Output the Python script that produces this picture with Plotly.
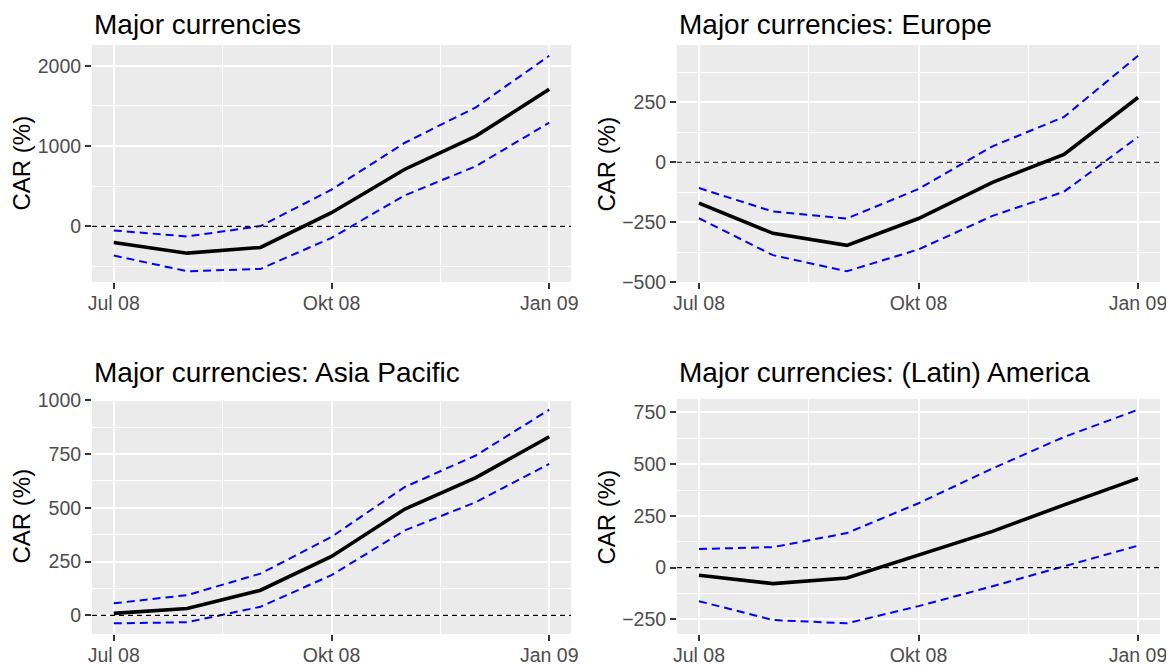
import plotly.graph_objects as go
from plotly.subplots import make_subplots

# monthly observation dates
dates = ['2008-07-01', '2008-08-01', '2008-09-01', '2008-10-01',
         '2008-11-01', '2008-12-01', '2009-01-01']

# CAR (%) per region: estimate and confidence bounds
world_car = [-200, -333, -262, 171, 712, 1125, 1708]
world_upper = [-50, -125, 4, 458, 1042, 1483, 2125]
world_lower = [-362, -558, -529, -142, 387, 750, 1292]

europe_car = [-171, -297, -347, -235, -84, 32, 270]
europe_upper = [-108, -206, -235, -112, 66, 189, 444]
europe_lower = [-234, -388, -455, -364, -224, -123, 105]

asia_car = [9, 32, 117, 274, 494, 640, 830]
asia_upper = [56, 94, 194, 365, 597, 743, 956]
asia_lower = [-37, -32, 40, 187, 395, 526, 704]

america_car = [-37, -77, -50, 62, 175, 303, 431]
america_upper = [90, 99, 167, 311, 479, 631, 763]
america_lower = [-162, -253, -269, -186, -90, 6, 106]

titles = ['Major currencies', 'Major currencies: Europe',
          'Major currencies: Asia Pacific', 'Major currencies: (Latin) America']
y_title = 'CAR (%)'

x_tickvals = ['2008-07-01', '2008-10-01', '2009-01-01']
x_ticktext = ['Jul 08', 'Okt 08', 'Jan 09']
x_minor = ['2008-08-16', '2008-11-16']

y_ticks = [
    [0, 1000, 2000],
    [-500, -250, 0, 250],
    [0, 250, 500, 750, 1000],
    [-250, 0, 250, 500, 750],
]
y_minor = [
    [-500, 500, 1500],
    [-375, -125, 125, 375],
    [125, 375, 625, 875],
    [-125, 125, 375, 625],
]

panels = [
    (world_car, world_upper, world_lower),
    (europe_car, europe_upper, europe_lower),
    (asia_car, asia_upper, asia_lower),
    (america_car, america_upper, america_lower),
]

# the page body has an 8px margin, so the figure starts at (8, 8)
OFF = 8
W, H = 1174 - OFF, 665 - OFF
FONT = 'Liberation Sans, Arial, sans-serif'

fig = make_subplots(rows=2, cols=2)

# panel boxes in screen pixels (left, right, top, bottom)
boxes = [(92, 571, 45, 282), (677, 1160, 45, 282),
         (92, 571, 399, 634), (677, 1160, 399, 634)]
# gap between title centre and panel top (top row nudged down to stay on the page)
title_gap = [21, 21, 27, 27]

for i, (car, up, lo) in enumerate(panels):
    r, c = i // 2 + 1, i % 2 + 1
    for ys in (up, lo):
        fig.add_trace(go.Scatter(x=dates, y=ys, mode='lines',
                                 line=dict(color='#0000FF', width=2, dash='8px,5px'),
                                 showlegend=False, hoverinfo='skip'), row=r, col=c)
    fig.add_trace(go.Scatter(x=dates, y=car, mode='lines',
                             line=dict(color='black', width=3.6),
                             showlegend=False), row=r, col=c)
    fig.add_hline(y=0, line=dict(color='black', width=1.1, dash='5px,4px'), row=r, col=c)

    lo_v, hi_v = min(lo + car + up), max(lo + car + up)
    pad = (hi_v - lo_v) * 0.05
    l, rr, t, b = [v - OFF for v in boxes[i]]
    ax = '' if i == 0 else str(i + 1)
    fig.layout['xaxis' + ax].update(
        domain=[l / W, rr / W], type='date', automargin=False,
        range=['2008-06-21 19:00', '2009-01-10 05:00'],
        tickmode='array', tickvals=x_tickvals, ticktext=x_ticktext,
        ticks='outside', ticklen=6, tickwidth=1.5, tickcolor='#333333',
        tickfont=dict(size=19.5, color='#4D4D4D', family=FONT),
        ticklabelstandoff=-2,
        showgrid=True, gridcolor='white', gridwidth=1.8, zeroline=False,
        showline=False,
        minor=dict(tickmode='array', tickvals=x_minor, showgrid=True,
                   gridcolor='white', gridwidth=0.8, ticks=''),
    )
    fig.layout['yaxis' + ax].update(
        domain=[1 - b / H, 1 - t / H], automargin=False,
        range=[lo_v - pad, hi_v + pad],
        tickmode='array', tickvals=y_ticks[i],
        ticks='outside', ticklen=6, tickwidth=1.5, tickcolor='#333333',
        tickfont=dict(size=19.5, color='#4D4D4D', family=FONT),
        showgrid=True, gridcolor='white', gridwidth=1.8, zeroline=False,
        showline=False,
        minor=dict(tickmode='array', tickvals=y_minor[i], showgrid=True,
                   gridcolor='white', gridwidth=0.8, ticks=''),
    )
    # panel title
    fig.add_annotation(text=titles[i], xref='paper', yref='paper',
                       x=l / W, y=1 - (t - title_gap[i]) / H,
                       xanchor='left', yanchor='middle', showarrow=False,
                       font=dict(size=28, color='black', family=FONT))
    # y axis title
    fig.add_annotation(text=y_title, xref='paper', yref='paper', textangle=-90,
                       x=(l - 71) / W, y=1 - (t + b) / 2 / H,
                       xanchor='center', yanchor='middle', showarrow=False,
                       font=dict(size=24, color='black', family=FONT))

fig.update_layout(
    width=W, height=H,
    margin=dict(l=0, r=0, t=0, b=0, autoexpand=False),
    paper_bgcolor='white', plot_bgcolor='#EBEBEB',
    font=dict(family=FONT),
)

fig.write_html('out.html')
